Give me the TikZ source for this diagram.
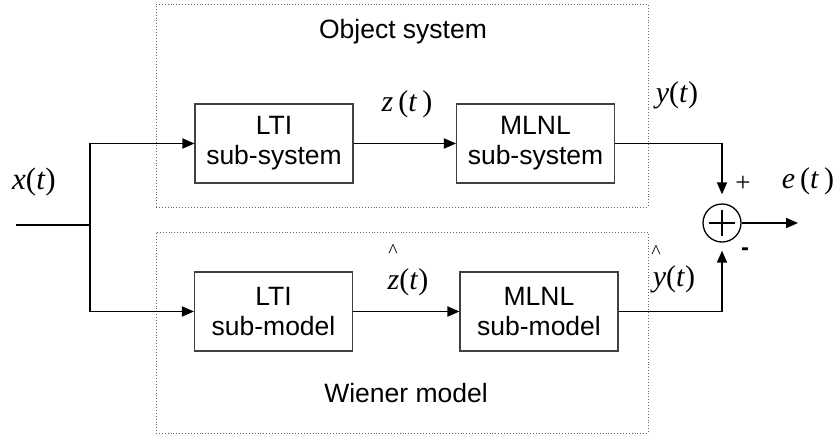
\documentclass[tikz,border=0pt]{standalone}
\usepackage{fontspec}
\setmainfont{Liberation Serif}
\setsansfont{Liberation Sans}
\usetikzlibrary{arrows.meta}
\begin{document}
\begin{tikzpicture}[x=1pt,y=-1pt,
  blk/.style={draw=black!75, line width=1.1pt, minimum width=158pt, minimum height=79pt, align=center, font=\sffamily\fontsize{26.5}{30}\selectfont, inner sep=0pt},
  grp/.style={draw=black!60, dotted, line width=0.9pt, inner sep=0pt},
  sig/.style={line width=1.8pt, -{Triangle[length=12pt,width=10pt]}},
  wire/.style={line width=1.8pt},
  lbl/.style={font=\fontsize{30}{32}\selectfont, inner sep=0pt},
  grptitle/.style={font=\sffamily\fontsize{26.5}{30}\selectfont, inner sep=0pt},
  hatmark/.style={font=\fontsize{20}{22}\selectfont, inner sep=0pt}]
\useasboundingbox (0,0) rectangle (837,436);
% group boxes
\node[grp, minimum width=492pt, minimum height=203pt] (topgrp) at (402,105.5) {};
\node[grp, minimum width=492pt, minimum height=201pt] (botgrp) at (402,332.5) {};
\node[grptitle] (objtxt) at (403,32) {Object system};
\node[grptitle] (wientxt) at (406,393) {Wiener model};
% blocks
\node[blk] (lti1) at (274,143.5) {LTI\\sub-system};
\node[blk] (mlnl1) at (535.5,143.5) {MLNL\\sub-system};
\node[blk] (lti2) at (273.5,311.5) {LTI\\sub-model};
\node[blk] (mlnl2) at (539,311.5) {MLNL\\sub-model};
\node[draw, circle, line width=1.3pt, minimum size=38pt, inner sep=0pt] (sum) at (722,223) {};
\draw[line width=1.3pt] ([xshift=-13pt]sum.center) -- ([xshift=13pt]sum.center);
\draw[line width=1.3pt] ([yshift=-13pt]sum.center) -- ([yshift=13pt]sum.center);
% coordinates
\coordinate (in) at (16,225);
\coordinate (br) at (90,225);
\coordinate (out) at (798,223);
% connectors
\draw[wire] (in) -- (br);
\draw[sig] (br) |- (lti1.west);
\draw[sig] (br) |- (lti2.west);
\draw[sig] (lti1.east) -- (mlnl1.west);
\draw[sig] (lti2.east) -- (mlnl2.west);
\draw[sig, shorten >=9pt] (mlnl1.east) -| (sum.north);
\draw[sig, shorten >=8pt] (mlnl2.east) -| (sum.south);
\draw[sig] (sum.east) -- (out);
% labels
\node[lbl, font=\fontsize{31}{32}\selectfont] (xlbl) at (34,182) {\textit{x}(\textit{t})};
\node[lbl] (zlbl) at (407,104) {\textit{z}\,(\textit{t}\,)};
\node[lbl] (zhlbl) at (408,282) {\textit{z}(\textit{t})};
\node[hatmark] (zhat) at (393,251) {\textasciicircum};
\node[lbl] (ylbl) at (677,95) {\textit{y}(\textit{t})};
\node[lbl] (yhlbl) at (674,279) {\textit{y}(\textit{t})};
\node[hatmark] (yhat) at (656,252) {\textasciicircum};
\node[lbl] (elbl) at (808,181) {\textit{e}\,(\textit{t}\,)};
\node[lbl, font=\fontsize{27}{28}\selectfont] (plus) at (743,184) {+};
\node[lbl, font=\sffamily\bfseries\fontsize{24}{26}\selectfont] (minus) at (745,252) {-};
\end{tikzpicture}
\end{document}
